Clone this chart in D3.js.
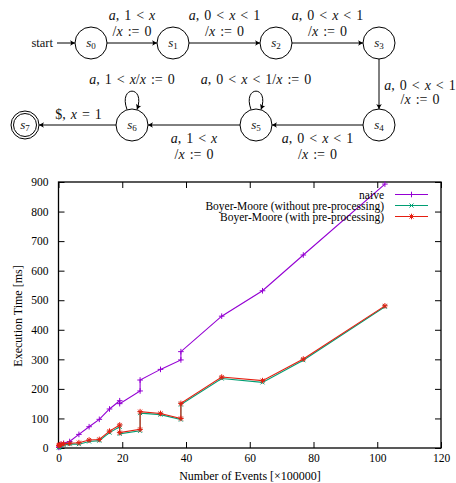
<!DOCTYPE html>
<html>
<head>
<meta charset="utf-8">
<script src="https://cdn.jsdelivr.net/npm/d3@7"></script>
<style>
  body { margin: 0; background: #fff; }
  svg { display: block; }
</style>
</head>
<body>
<script>
// ---- benchmark data ----
const events  = [0.1, 0.2, 0.4, 0.8, 1.6, 3.5, 6.4, 9.6, 12.8, 16, 19.2, 19.2, 25.6, 25.6, 32, 38.4, 38.4, 51.2, 64, 76.8, 102.4];
const naive   = [2, 4, 7, 12, 16, 22, 46, 72, 97, 132, 160, 150, 193, 230, 266, 298, 326, 446, 532, 653, 893];
const bmNoPre = [1, 3, 5, 8, 10, 13, 13, 22, 25, 52, 72, 48, 58, 118, 113, 96, 147, 235, 222, 297, 478];
const bmPre   = [8, 10, 11, 13, 14, 16, 18, 27, 29, 57, 78, 52, 63, 123, 117, 100, 151, 240, 228, 301, 481];

const seriesNames  = ["naive", "Boyer-Moore (without pre-processing)", "Boyer-Moore (with pre-processing)"];
const seriesColors = ["#9400d3", "#009e73", "#e51e10"];
const seriesShapes = ["plus", "cross", "star"];

const xTickValues = [0, 20, 40, 60, 80, 100, 120];
const yTickValues = [0, 100, 200, 300, 400, 500, 600, 700, 800, 900];

// ---- automaton ----
const states = [
  {id: 0, x: 91,  y: 43},
  {id: 1, x: 173, y: 43},
  {id: 2, x: 276, y: 43},
  {id: 3, x: 379, y: 43},
  {id: 4, x: 379, y: 125},
  {id: 5, x: 256, y: 125},
  {id: 6, x: 132, y: 125},
  {id: 7, x: 25,  y: 125, accept: true}
];
const transitions = [
  {from: 0, to: 1, lines: ["a, 1 < x", "/x := 0"], side: "above"},
  {from: 1, to: 2, lines: ["a, 0 < x < 1", "/x := 0"], side: "above"},
  {from: 2, to: 3, lines: ["a, 0 < x < 1", "/x := 0"], side: "above"},
  {from: 3, to: 4, lines: ["a, 0 < x < 1", "/x := 0"], side: "right"},
  {from: 4, to: 5, lines: ["a, 0 < x < 1", "/x := 0"], side: "below"},
  {from: 5, to: 5, lines: ["a, 0 < x < 1/x := 0"], side: "loop"},
  {from: 5, to: 6, lines: ["a, 1 < x", "/x := 0"], side: "below"},
  {from: 6, to: 6, lines: ["a, 1 < x/x := 0"], side: "loop"},
  {from: 6, to: 7, lines: ["$, x = 1"], side: "above"}
];

const W = 456, H = 483;
const serif = "'Liberation Serif', 'Times New Roman', serif";

const svg = d3.select("body").append("svg")
    .attr("width", W)
    .attr("height", H)
    .style("font-family", serif);

svg.append("defs").append("marker")
    .attr("id", "arrow")
    .attr("viewBox", "-6 -4 7 8")
    .attr("refX", 0).attr("refY", 0)
    .attr("markerWidth", 7).attr("markerHeight", 8)
    .attr("markerUnits", "userSpaceOnUse")
    .attr("orient", "auto")
  .append("path")
    .attr("d", "M0,0 L-5,-2.8 Q-3,0 -5,2.8 Z")
    .attr("fill", "#000");

// letters italic, digits and operators upright, like LaTeX math
function mathText(text, str) {
  str.split(/([a-z]+)/).forEach(part => {
    if (!part) return;
    text.append("tspan")
        .attr("font-style", /[a-z]/.test(part) ? "italic" : "normal")
        .text(part);
  });
}

const R = 16;
const auto = svg.append("g").attr("font-size", 14).attr("fill", "#111");
const byId = new Map(states.map(s => [s.id, s]));

// start arrow
auto.append("text")
    .attr("x", 53).attr("y", 43).attr("dy", "0.35em")
    .attr("text-anchor", "end")
    .attr("font-size", 12.5)
    .text("start");
auto.append("line")
    .attr("x1", 57).attr("y1", 43)
    .attr("x2", 91 - R).attr("y2", 43)
    .attr("stroke", "#000").attr("marker-end", "url(#arrow)");

transitions.forEach(t => {
  const a = byId.get(t.from), b = byId.get(t.to);
  const ra = a.accept ? 14 : R, rb = b.accept ? 14 : R;
  let lx, ly, step = 16;
  if (t.side === "loop") {
    const top = a.y - R;
    auto.append("path")
        .attr("d", `M${a.x - 5},${top + 0.5} C${a.x - 14},${top - 24} ${a.x + 14},${top - 24} ${a.x + 5},${top + 0.5}`)
        .attr("fill", "none").attr("stroke", "#000")
        .attr("marker-end", "url(#arrow)");
    lx = a.x; ly = top - 30;
  } else {
    const dx = b.x - a.x, dy = b.y - a.y, len = Math.hypot(dx, dy);
    const ux = dx / len, uy = dy / len;
    auto.append("line")
        .attr("x1", a.x + ux * ra).attr("y1", a.y + uy * ra)
        .attr("x2", b.x - ux * rb).attr("y2", b.y - uy * rb)
        .attr("stroke", "#000").attr("marker-end", "url(#arrow)");
    const mx = (a.x + b.x) / 2, my = (a.y + b.y) / 2;
    if (t.side === "above") { lx = mx; ly = my - 6 - (t.lines.length - 1) * 17 - 5; }
    if (t.side === "below") { lx = mx; ly = my + 13; }
    if (t.side === "right") { lx = a.x + 41; ly = my + 1; step = 14; }
  }
  t.lines.forEach((line, i) => {
    const txt = auto.append("text")
        .attr("x", lx).attr("y", ly + i * step)
        .attr("dy", "0.35em")
        .attr("text-anchor", "middle")
        .attr("word-spacing", 1.5)
        .style("white-space", "pre");
    mathText(txt, line);
  });
});

const nodes = auto.selectAll("g.state")
  .data(states)
  .join("g")
    .attr("class", "state")
    .attr("transform", d => `translate(${d.x},${d.y})`);
nodes.append("circle")
    .attr("r", d => d.accept ? 14 : R)
    .attr("fill", "#fff").attr("stroke", "#000");
nodes.filter(d => d.accept).append("circle")
    .attr("r", 11.5)
    .attr("fill", "none").attr("stroke", "#000");
nodes.append("text")
    .attr("text-anchor", "middle")
    .attr("dy", "0.3em")
    .call(t => t.append("tspan").attr("font-style", "italic").attr("font-size", 13).text("s"))
    .call(t => t.append("tspan").attr("font-size", 9).attr("dy", "0.25em").text(d => d.id));

// ---- line chart ----
const margin = {left: 58.5, right: 441, top: 182, bottom: 448};
const x = d3.scaleLinear().domain([0, 120]).range([margin.left, margin.right]);
const y = d3.scaleLinear().domain([0, 900]).range([margin.bottom, margin.top]);

const chart = svg.append("g").attr("font-size", 11);

const tickStyle = g => {
  g.select(".domain").remove();
  g.selectAll(".tick line").attr("stroke", "#000");
  g.selectAll(".tick text").attr("fill", "#000").style("font-family", serif).attr("font-size", 11.5);
};

chart.append("g")
    .attr("transform", `translate(0,${margin.bottom})`)
    .call(d3.axisBottom(x).tickValues(xTickValues).tickSize(-6).tickPadding(6))
    .call(tickStyle);
chart.append("g")
    .attr("transform", `translate(0,${margin.top})`)
    .call(d3.axisTop(x).tickValues(xTickValues).tickSize(-6).tickFormat(""))
    .call(tickStyle);
chart.append("g")
    .attr("transform", `translate(${margin.left},0)`)
    .call(d3.axisLeft(y).tickValues(yTickValues).tickSize(-6).tickPadding(10))
    .call(tickStyle);
chart.append("g")
    .attr("transform", `translate(${margin.right},0)`)
    .call(d3.axisRight(y).tickValues(yTickValues).tickSize(-6).tickFormat(""))
    .call(tickStyle);

chart.append("rect")
    .attr("x", margin.left).attr("y", margin.top)
    .attr("width", margin.right - margin.left)
    .attr("height", margin.bottom - margin.top)
    .attr("fill", "none").attr("stroke", "#000").attr("stroke-width", 1.3);

chart.append("text")
    .attr("x", 250).attr("y", 476).attr("dy", "0.35em")
    .attr("text-anchor", "middle")
    .attr("font-size", 12)
    .text("Number of Events [×100000]");
chart.append("text")
    .attr("transform", "translate(18,316) rotate(-90)")
    .attr("dy", "0.35em")
    .attr("text-anchor", "middle")
    .attr("font-size", 12)
    .text("Execution Time [ms]");

const markerPath = {
  plus:  "M-2.8,0H2.8M0,-2.8V2.8",
  cross: "M-2,-2L2,2M-2,2L2,-2",
  star:  "M-2.8,0H2.8M0,-2.8V2.8M-2,-2L2,2M-2,2L2,-2"
};

const series = [naive, bmNoPre, bmPre].map((values, k) => ({
  name: seriesNames[k], color: seriesColors[k], shape: seriesShapes[k],
  points: values.map((v, i) => [events[i], v])
}));

const line = d3.line().x(d => x(d[0])).y(d => y(d[1]));

const sg = chart.selectAll("g.series")
  .data(series)
  .join("g")
    .attr("class", "series")
    .attr("stroke", d => d.color)
    .attr("fill", "none");
sg.append("path")
    .attr("d", d => line(d.points))
    .attr("stroke-width", 1.1);
sg.selectAll("path.pt")
  .data(d => d.points.map(p => ({p, shape: d.shape})))
  .join("path")
    .attr("class", "pt")
    .attr("transform", d => `translate(${x(d.p[0])},${y(d.p[1])})`)
    .attr("d", d => markerPath[d.shape])
    .attr("stroke-width", 1);

// legend, top right inside the plot
const legend = chart.selectAll("g.legend")
  .data(series)
  .join("g")
    .attr("class", "legend")
    .attr("transform", (d, i) => `translate(0,${194.5 + i * 11})`);
legend.append("text")
    .attr("x", 384).attr("dy", "0.35em")
    .attr("text-anchor", "end")
    .attr("font-size", 11.5)
    .text(d => d.name);
legend.append("line")
    .attr("x1", 395).attr("x2", 428)
    .attr("stroke", d => d.color).attr("stroke-width", 1.1);
legend.append("path")
    .attr("transform", "translate(411.5,0)")
    .attr("d", d => markerPath[d.shape])
    .attr("fill", "none").attr("stroke", d => d.color);
</script>
</body>
</html>
